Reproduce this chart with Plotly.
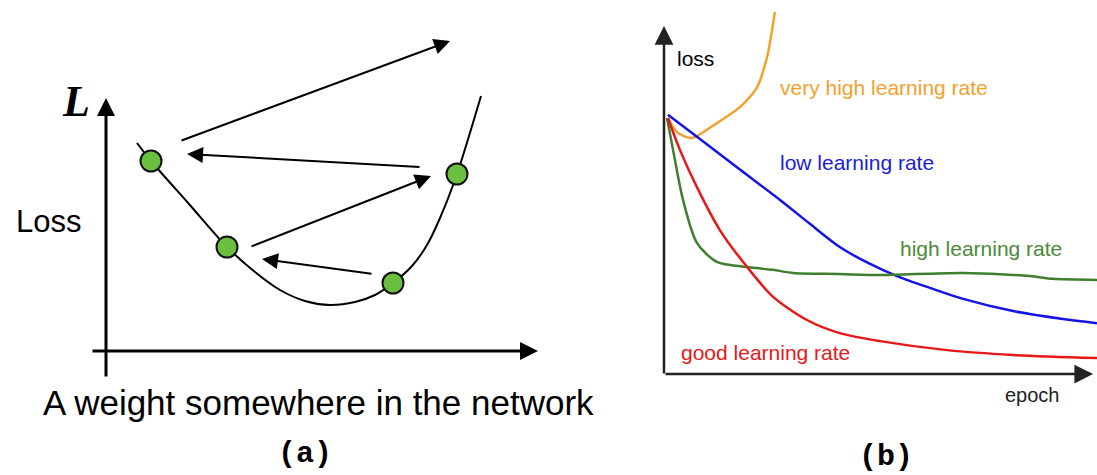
import plotly.graph_objects as go

W, H = 1097, 475

# ---------------- panel (a): loss surface along one weight ----------------
weight = [0.62, 0.90, 1.66, 2.42, 2.98, 3.48, 3.98, 4.48, 4.98, 5.38, 5.74, 6.12, 6.42, 6.68, 7.02, 7.50]
loss_a = [4.16, 3.80, 2.94, 2.08, 1.58, 1.22, 1.00, 0.92, 0.98, 1.12, 1.36, 1.70, 2.12, 2.66, 3.54, 5.10]

step_w = [0.90, 2.42, 5.74, 7.02]
step_l = [3.80, 2.08, 1.36, 3.54]

# update steps drawn as arrows: (from_w, from_l, to_w, to_l)
jumps = [
    (1.48, 4.20, 6.88, 6.20),
    (6.30, 3.68, 1.62, 3.94),
    (2.88, 2.08, 6.50, 3.50),
    (5.34, 1.54, 3.12, 1.84),
]

# ---------------- panel (b): training curves ----------------
epoch_vh = [0.9, 3.0, 6.0, 7.2, 12.2, 17.6, 21.5, 23.8, 25.6]
loss_vh = [74.0, 69.9, 68.2, 68.5, 72.5, 77.2, 82.9, 91.6, 104.6]

epoch_low = [0.9, 8.3, 17.6, 26.8, 33.7, 40.6, 47.6, 53.8, 61.4, 69.1, 80.6, 92.1, 100]
loss_low = [74.9, 67.9, 59.0, 50.3, 43.4, 36.7, 31.8, 28.3, 24.9, 21.7, 18.2, 15.9, 14.7]

epoch_high = [0.7, 2.1, 4.4, 7.6, 12.2, 19.2, 25.2, 29.8, 40.6, 49.9, 69.1, 84.5, 89.8, 100]
loss_high = [74.0, 64.7, 50.3, 37.9, 32.4, 30.9, 30.1, 29.2, 28.9, 28.6, 29.2, 28.3, 27.5, 27.2]

epoch_good = [0.9, 3.7, 7.6, 12.9, 19.2, 25.2, 33.0, 40.6, 49.9, 65.4, 80.6, 100]
loss_good = [74.0, 64.7, 54.0, 41.6, 30.9, 22.3, 15.6, 11.8, 9.5, 6.9, 5.5, 4.6]

ORANGE, BLUE, GREEN, RED = "#f2a22c", "#1414e6", "#3f7f2e", "#e81818"

# ---------------- layout geometry (origin in px, px per unit) ----------------
A_ORIGIN, A_SCALE, A_RIGHT = (106, 351), (50, 50), 620
B_ORIGIN, B_SCALE, B_LEFT = (664, 374), (4.33, 3.46), 640


def xrange_for(left_px, right_px, origin, scale):
    return [(left_px - origin[0]) / scale[0], (right_px - origin[0]) / scale[0]]


def yrange_for(origin, scale):
    return [(origin[1] - H) / scale[1], origin[1] / scale[1]]


fig = go.Figure()

fig.add_trace(go.Scatter(
    x=weight, y=loss_a, mode="lines", line=dict(color="black", width=2, shape="spline", smoothing=0.8),
    xaxis="x", yaxis="y", hoverinfo="skip", showlegend=False))
fig.add_trace(go.Scatter(
    x=step_w, y=step_l, mode="markers",
    marker=dict(size=21, color="#6abf3e", line=dict(color="#111111", width=2)),
    xaxis="x", yaxis="y", hoverinfo="skip", showlegend=False))

for ex, ey, col in [(epoch_vh, loss_vh, ORANGE), (epoch_low, loss_low, BLUE),
                    (epoch_high, loss_high, GREEN), (epoch_good, loss_good, RED)]:
    fig.add_trace(go.Scatter(
        x=ex, y=ey, mode="lines", line=dict(color=col, width=2.5, shape="spline", smoothing=0.8),
        xaxis="x2", yaxis="y2", hoverinfo="skip", showlegend=False))

ann = []


def arrow(x0, y0, x1, y1, ref, width, size, color="black"):
    ann.append(dict(x=x1, y=y1, ax=x0, ay=y0, xref=ref[0], yref=ref[1], axref=ref[0], ayref=ref[1],
                    text="", showarrow=True, arrowhead=2, arrowsize=size, arrowwidth=width,
                    arrowcolor=color, standoff=0, startstandoff=0))


# axes of panel (a)
arrow(0, -0.54, 0, 5.06, ("x", "y"), 3, 1.2)
arrow(-0.30, 0, 8.64, 0, ("x", "y"), 3, 1.2)
for fw, fl, tw, tl in jumps:
    arrow(fw, fl, tw, tl, ("x", "y"), 2, 1.6)

# axes of panel (b)
arrow(0, -0.3, 0, 100.6, ("x2", "y2"), 2.5, 1.5, "#222222")
arrow(0, 0, 99.1, 0, ("x2", "y2"), 2.5, 1.5, "#222222")


def text(s, x, y, ref, size, color="black", family="Liberation Sans", xanchor="center"):
    ann.append(dict(x=x, y=y, xref=ref[0], yref=ref[1], text=s, showarrow=False,
                    xanchor=xanchor, yanchor="middle",
                    font=dict(size=size, color=color, family=family)))


text("<b><i>L</i></b>", -0.60, 5.0, ("x", "y"), 44, family="Liberation Serif")
text("Loss", -1.16, 2.6, ("x", "y"), 31)
text("A weight somewhere in the network", 4.24, -1.02, ("x", "y"), 35)
text("<b>(a)</b>", 3.98, -2.06, ("x", "y"), 30, family="Liberation Mono")

text("loss", 7.2, 91.3, ("x2", "y2"), 21)
text("epoch", 85.0, -6.1, ("x2", "y2"), 20, color="#222222")
text("very high learning rate", 26.3, 82.7, ("x2", "y2"), 21, ORANGE, xanchor="left")
text("low learning rate", 26.3, 61.0, ("x2", "y2"), 21, "#1c1cd8", xanchor="left")
text("high learning rate", 54.0, 36.4, ("x2", "y2"), 21, "#4a8a3a", xanchor="left")
text("good learning rate", 3.4, 6.1, ("x2", "y2"), 21, RED, xanchor="left")
text("<b>(b)</b>", 51.3, -24.0, ("x2", "y2"), 30, family="Liberation Mono")

hidden = dict(visible=False, fixedrange=True)
fig.update_layout(
    width=W, height=H, margin=dict(l=0, r=0, t=0, b=0),
    paper_bgcolor="white", plot_bgcolor="white",
    xaxis=dict(domain=[0, A_RIGHT / W], range=xrange_for(0, A_RIGHT, A_ORIGIN, A_SCALE), **hidden),
    yaxis=dict(domain=[0, 1], range=yrange_for(A_ORIGIN, A_SCALE), **hidden),
    xaxis2=dict(domain=[B_LEFT / W, 1], range=xrange_for(B_LEFT, W, B_ORIGIN, B_SCALE), **hidden),
    yaxis2=dict(domain=[0, 1], range=yrange_for(B_ORIGIN, B_SCALE), **hidden),
    annotations=ann,
)

fig.write_html("out.html")
